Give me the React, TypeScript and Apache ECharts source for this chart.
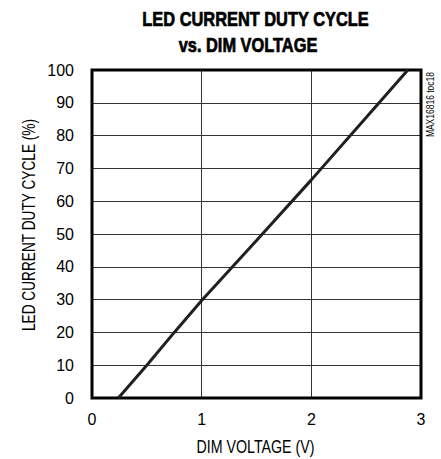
import React, { useEffect, useRef } from "react";
import * as echarts from "echarts";

const voltage = [0.24, 0.5, 0.75, 1.0, 1.5, 2.0, 2.5, 2.88];
const dutyCycle = [0, 10, 20, 29.7, 48, 66.5, 85.5, 100];
const xTicks = [0, 1, 2, 3];
const yTicks = [0, 10, 20, 30, 40, 50, 60, 70, 80, 90, 100];
const titleLines = ["LED CURRENT DUTY CYCLE", "vs. DIM VOLTAGE"];
const xName = "DIM VOLTAGE (V)";
const yName = "LED CURRENT DUTY CYCLE (%)";
const sideNote = "MAX16816 toc18";

const FONT = "'Liberation Sans', Arial, sans-serif";

export default function App() {
  const ref = useRef<HTMLDivElement>(null);
  useEffect(() => {
    if (!ref.current) return;
    const chart = echarts.init(ref.current, null, { renderer: "svg" });
    chart.setOption({
      animation: false,
      backgroundColor: "#ffffff",
      grid: {
        left: 92,
        top: 70,
        width: 329,
        height: 328,
        show: true,
        borderColor: "#000",
        borderWidth: 3,
        backgroundColor: "transparent",
        z: 3,
      },
      xAxis: {
        type: "value",
        min: 0,
        max: 3,
        interval: 1,
        axisLine: { show: false },
        axisTick: { show: false },
        axisLabel: {
          fontFamily: FONT,
          fontSize: 16,
          color: "#000",
          margin: 13,
          formatter: (v: number) => (xTicks.includes(v) ? String(v) : ""),
        },
        splitLine: { show: true, lineStyle: { color: "#333", width: 1 } },
      },
      yAxis: {
        type: "value",
        min: 0,
        max: 100,
        interval: 10,
        axisLine: { show: false },
        axisTick: { show: false },
        axisLabel: {
          fontFamily: FONT,
          fontSize: 16,
          color: "#000",
          margin: 18,
          formatter: (v: number) => (yTicks.includes(v) ? String(v) : ""),
        },
        splitLine: { show: true, lineStyle: { color: "#333", width: 1 } },
      },
      graphic: [
        {
          type: "text",
          x: 255.5,
          y: 19,
          scaleX: 0.82,
          style: {
            text: titleLines[0],
            fontFamily: FONT,
            fontWeight: "bold",
            fontSize: 20,
            fill: "#000",
            stroke: "#000",
            lineWidth: 0.7,
            textAlign: "center",
            textVerticalAlign: "middle",
          },
        },
        {
          type: "text",
          x: 248,
          y: 44.5,
          scaleX: 0.82,
          style: {
            text: titleLines[1],
            fontFamily: FONT,
            fontWeight: "bold",
            fontSize: 20,
            fill: "#000",
            stroke: "#000",
            lineWidth: 0.7,
            textAlign: "center",
            textVerticalAlign: "middle",
          },
        },
        {
          type: "text",
          x: 255.5,
          y: 446,
          scaleX: 0.79,
          style: {
            text: xName,
            fontFamily: FONT,
            fontSize: 18,
            fill: "#000",
            textAlign: "center",
            textVerticalAlign: "middle",
          },
        },
        {
          type: "text",
          x: 29,
          y: 225,
          rotation: Math.PI / 2,
          scaleX: 0.76,
          style: {
            text: yName,
            fontFamily: FONT,
            fontSize: 18,
            fill: "#000",
            textAlign: "center",
            textVerticalAlign: "middle",
          },
        },
        {
          type: "text",
          x: 431,
          y: 72,
          rotation: Math.PI / 2,
          scaleX: 0.85,
          style: {
            text: sideNote,
            fontFamily: FONT,
            fontSize: 10,
            fill: "#000",
            textAlign: "right",
            textVerticalAlign: "middle",
          },
        },
      ],
      series: [
        {
          type: "line",
          data: voltage.map((v, i) => [v, dutyCycle[i]]),
          showSymbol: false,
          lineStyle: { color: "#231f20", width: 3 },
          z: 5,
        },
      ],
    });
    return () => chart.dispose();
  }, []);
  return <div ref={ref} style={{ width: 441, height: 459, position: "absolute", left: 0, top: 0 }} />;
}
